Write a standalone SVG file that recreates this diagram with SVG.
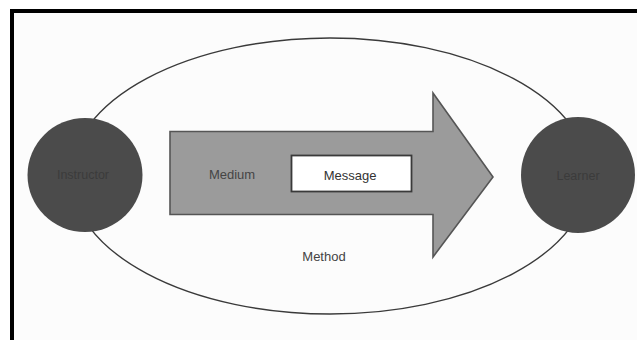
<svg xmlns="http://www.w3.org/2000/svg" width="637" height="340" viewBox="0 0 637 340">
  <defs>
    <style>
      .lbl { font-family: "Liberation Sans", Arial, sans-serif; font-size: 13px; text-anchor: middle; }
      .party { fill: #4b4b4b; }
      .party-lbl { fill: #3b3b3b; font-size: 12.5px; }
    </style>
  </defs>

  <!-- page -->
  <rect x="0" y="0" width="637" height="340" fill="#ffffff"/>
  <rect x="12" y="11" width="625" height="329" fill="#fcfcfc"/>
  <path d="M12 340 V11 H637" fill="none" stroke="#000" stroke-width="4"/>

  <!-- method: the enclosing ellipse -->
  <g id="method">
    <ellipse cx="330" cy="176" rx="259" ry="138" fill="none" stroke="#3a3a3a" stroke-width="1.4"/>
    <text class="lbl" x="324" y="261" fill="#444" font-size="12.5">Method</text>
  </g>

  <g id="connectors">
    <!-- medium: the block arrow from instructor to learner -->
    <g id="medium">
      <path d="M170 131.5 H433 V93 L493 177 L433 257 V214.5 H170 Z" fill="#9b9b9b" stroke="#555" stroke-width="1.6" stroke-linejoin="miter"/>
      <text class="lbl" x="232" y="179" fill="#454545">Medium</text>
    </g>
  </g>

  <g id="message">
    <rect x="291.5" y="155.5" width="120" height="36" fill="#ffffff" stroke="#3a3a3a" stroke-width="1.8"/>
    <text class="lbl" x="350" y="180" fill="#333">Message</text>
  </g>

  <g id="instructor">
    <ellipse class="party" cx="85" cy="175" rx="57.5" ry="57"/>
    <text class="lbl party-lbl" x="83" y="179">Instructor</text>
  </g>

  <g id="learner">
    <ellipse class="party" cx="578" cy="175" rx="57" ry="58"/>
    <text class="lbl party-lbl" x="578" y="180">Learner</text>
  </g>
</svg>
